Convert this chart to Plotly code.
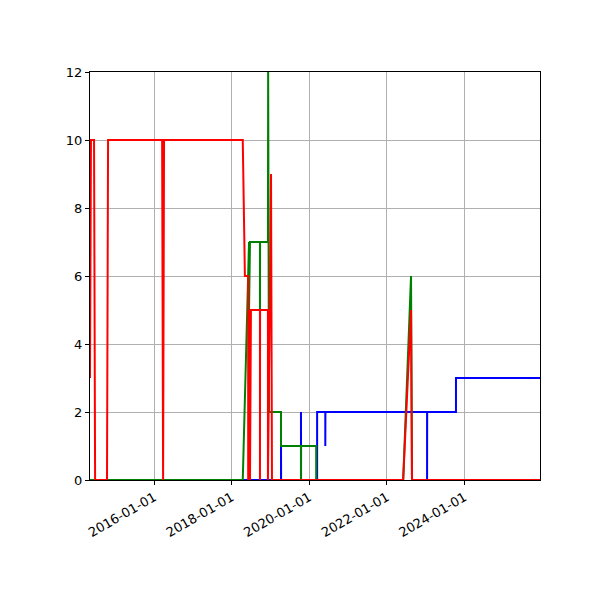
import plotly.graph_objects as go

red_x = ["2014-05-08","2014-05-17","2014-06-15","2014-06-25","2014-10-15","2014-10-25","2016-03-17","2016-03-26","2016-04-04",
         "2018-04-15","2018-05-05","2018-06-05","2018-06-05","2018-06-13","2018-06-22","2018-07-01","2018-09-24","2018-09-24",
         "2018-09-25","2018-12-08","2018-12-08","2019-01-06","2019-01-15","2022-06-03","2022-08-16","2022-08-25","2025-12-12"]
red_y = [3,10,10,0,0,10,10,0,10,
         10,6,6,0,5,0,5,5,0,
         5,5,0,9,0,0,5,0,0]

green_x = ["2014-05-08","2018-04-15","2018-06-13","2018-06-13","2018-06-22","2018-09-24","2018-09-24","2018-09-25","2018-12-08",
           "2018-12-10","2018-12-18","2019-04-10","2019-04-10","2019-10-15","2019-10-15","2019-10-16","2020-03-06","2020-03-06",
           "2022-06-03","2022-08-16","2022-08-25","2025-12-12"]
green_y = [0,0,7,5,7,7,5,7,7,
           12,2,2,1,1,0,1,1,0,
           0,6,0,0]

blue_x = ["2014-05-08","2019-04-10","2019-04-10","2019-04-11","2019-10-15","2019-10-15","2019-10-16","2020-03-15","2020-03-15",
          "2020-05-31","2020-05-31","2020-06-01","2023-01-14","2023-01-14","2023-01-15","2023-10-13","2023-10-13","2025-12-12"]
blue_y = [0,0,1,0,0,2,0,0,2,
          2,1,2,2,0,2,2,3,3]

tick_vals = ["2016-01-01","2018-01-01","2020-01-01","2022-01-01","2024-01-01"]

fig = go.Figure()
for xs, ys, c in [(blue_x, blue_y, "blue"), (green_x, green_y, "green"), (red_x, red_y, "red")]:
    fig.add_trace(go.Scatter(x=xs, y=ys, mode="lines", line=dict(color=c, width=2), showlegend=False))

axis_common = dict(showline=True, linecolor="black", mirror=True, showgrid=True, gridcolor="#b0b0b0",
                   ticks="outside", ticklen=4, tickcolor="black", zeroline=False,
                   tickfont=dict(family="DejaVu Sans", size=13, color="black"))
fig.update_xaxes(range=["2014-05-08","2025-12-12"], tickvals=tick_vals, ticktext=tick_vals, tickangle=-30, **axis_common)
fig.update_yaxes(range=[0,12], tickvals=[0,2,4,6,8,10,12], **axis_common)
fig.update_layout(width=600, height=600, margin=dict(l=82, r=68, t=64, b=128),
                  plot_bgcolor="white", paper_bgcolor="white")
fig.write_html("out.html")
